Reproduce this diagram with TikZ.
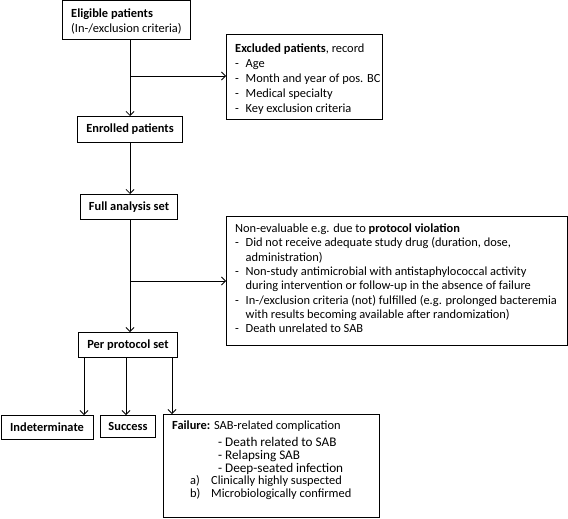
\documentclass[tikz,border=0pt]{standalone}
\usepackage{fontspec}
\setmainfont{Carlito}
\usetikzlibrary{arrows.meta}
\newcommand{\dashitem}{\makebox[10.5pt][l]{-}}
\newcommand{\contitem}{\makebox[10.5pt][l]{}}
\newcommand{\bigsub}[1]{{\fontsize{13.2}{12.7}\selectfont #1}}
\begin{document}
\begin{tikzpicture}[x=1pt,y=-1pt,
  box/.style={draw, line width=1pt, inner sep=0pt, anchor=north west, font=\fontsize{12.4}{15}\selectfont},
  txt/.style={inner sep=0pt, anchor=north west, align=left, font=\fontsize{12.4}{15}\selectfont},
  arr/.style={line width=0.8pt, -{Straight Barb[length=4pt,width=8pt]}}]
\useasboundingbox (0,0) rectangle (568,519);

% boxes
\node[box, minimum width=128pt, minimum height=38.5pt] (elig) at (62,0.5) {};
\node[txt] (eligtxt) at (71,8.2) {\textbf{Eligible patients}\\(In-/exclusion criteria)};

\node[box, minimum width=156pt, minimum height=85pt] (excl) at (226,34) {};
\node[txt] (excltxt) at (235,43.2) {\textbf{Excluded patients}, record\\
\dashitem Age\\
\dashitem Month and year of pos. BC\\
\dashitem Medical specialty\\
\dashitem Key exclusion criteria};

\node[box, minimum width=105pt, minimum height=26pt] (enr) at (77,116) {\textbf{Enrolled patients}};
\node[box, minimum width=97pt, minimum height=25pt] (fas) at (80,194) {\textbf{Full analysis set}};

\node[box, minimum width=341pt, minimum height=129pt] (nonev) at (226,216) {};
\node[txt, font=\fontsize{12.4}{14.3}\selectfont] (nonevtxt) at (235,223.7) {Non-evaluable e.g. due to \textbf{protocol violation}\\
\dashitem Did not receive adequate study drug (duration, dose,\\
\contitem administration)\\
\dashitem Non-study antimicrobial with antistaphylococcal activity\\
\contitem during intervention or follow-up in the absence of failure\\
\dashitem In-/exclusion criteria (not) fulfilled (e.g. prolonged bacteremia\\
\contitem with results becoming available after randomization)\\
\dashitem Death unrelated to SAB};

\node[box, minimum width=99pt, minimum height=25pt] (pps) at (78,332) {\textbf{Per protocol set}};

\node[box, minimum width=92pt, minimum height=24pt] (ind) at (0.5,415) {\textbf{Indeterminate}};
\node[box, minimum width=55pt, minimum height=22pt] (suc) at (100,415) {\textbf{Success}};

\node[box, minimum width=216pt, minimum height=103pt] (fail) at (163,414) {};
\node[txt, font=\fontsize{12.4}{12.7}\selectfont] (failtxt) at (172,420.7) {\textbf{Failure:} SAB-related complication\\[4.3pt]
\hspace*{46pt}\bigsub{- Death related to SAB}\\
\hspace*{46pt}\bigsub{- Relapsing SAB}\\
\hspace*{46pt}\bigsub{- Deep-seated infection}\\
\hspace*{18pt}\makebox[21pt][l]{a)}Clinically highly suspected\\
\hspace*{18pt}\makebox[21pt][l]{b)}Microbiologically confirmed};

% connectors
\coordinate (b1) at (130,76);
\coordinate (b2) at (130,281);
\draw[arr] (elig.south -| b1) -- (enr.north -| b1);
\draw[arr] (b1) -- (excl.west |- b1);
\draw[arr] (enr.south -| b1) -- (fas.north -| b1);
\draw[arr] (fas.south -| b2) -- (pps.north -| b2);
\draw[arr] (b2) -- (nonev.west |- b2);
\coordinate (c1) at (84,0);
\coordinate (c2) at (126,0);
\coordinate (c3) at (172,0);
\draw[arr] (pps.south -| c1) -- (ind.north -| c1);
\draw[arr] (pps.south -| c2) -- (suc.north -| c2);
\draw[arr] (pps.south -| c3) -- (fail.north -| c3);
\end{tikzpicture}
\end{document}
